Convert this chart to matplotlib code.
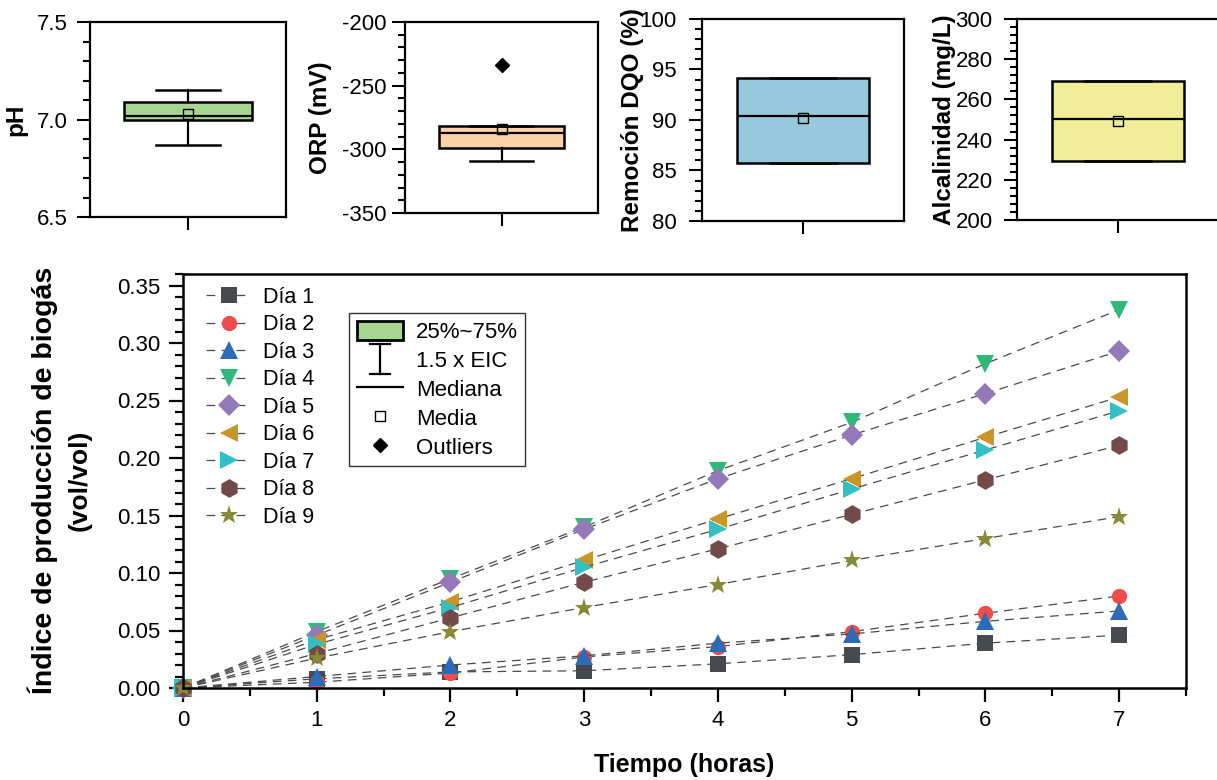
import matplotlib
matplotlib.use("Agg")
import matplotlib.pyplot as plt
from matplotlib.lines import Line2D
from matplotlib.patches import Patch
from matplotlib.legend_handler import HandlerBase
from matplotlib.ticker import MultipleLocator

plt.rcParams['font.family'] = ['Liberation Sans', 'DejaVu Sans']
plt.rcParams['font.size'] = 15

# ---------------- data ----------------
horas = [0, 1, 2, 3, 4, 5, 6, 7]
dia_labels = ["Día 1", "Día 2", "Día 3", "Día 4", "Día 5", "Día 6", "Día 7", "Día 8", "Día 9"]
dia1 = [0.0, 0.008, 0.014, 0.015, 0.021, 0.029, 0.039, 0.046]
dia2 = [0.0, 0.005, 0.013, 0.027, 0.036, 0.049, 0.065, 0.080]
dia3 = [0.0, 0.010, 0.020, 0.028, 0.039, 0.047, 0.058, 0.067]
dia4 = [0.0, 0.049, 0.095, 0.140, 0.189, 0.231, 0.282, 0.329]
dia5 = [0.0, 0.046, 0.092, 0.138, 0.182, 0.220, 0.256, 0.293]
dia6 = [0.0, 0.042, 0.075, 0.111, 0.147, 0.182, 0.218, 0.253]
dia7 = [0.0, 0.038, 0.070, 0.105, 0.138, 0.173, 0.207, 0.241]
dia8 = [0.0, 0.030, 0.061, 0.092, 0.121, 0.151, 0.181, 0.211]
dia9 = [0.0, 0.026, 0.049, 0.070, 0.090, 0.111, 0.130, 0.149]
series = [dia1, dia2, dia3, dia4, dia5, dia6, dia7, dia8, dia9]

# box stats: whislo, q1, med, q3, whishi ; plus mean and fliers
ph_stats = [6.87, 7.00, 7.02, 7.09, 7.15]
ph_mean = 7.03
orp_stats = [-309, -299, -287, -282, -282]
orp_mean = -284
orp_fliers = [-234]
dqo_stats = [85.7, 85.7, 90.4, 94.2, 94.2]
dqo_mean = 90.2
alc_stats = [229.5, 229.5, 250.0, 269.0, 269.0]
alc_mean = 249.5

legend_box_labels = ["25%~75%", "1.5 x EIC", "Mediana", "Media", "Outliers"]

# ---------------- styles ----------------
colors = ['#46494d', '#ef4c4c', '#2b6bb8', '#2fb877', '#9479b8',
          '#c8952a', '#33bfc4', '#734a4a', '#878a36']
markers = ['s', 'o', '^', 'v', 'D', '<', '>', 'h', '*']
msizes = [11, 11, 12.5, 12.5, 11, 12.5, 12.5, 13.5, 14]

W, H = 1217, 780
fig = plt.figure(figsize=(W / 100, H / 100), dpi=100)

def fr(l, t, r, b):
    return [l / W, 1 - b / H, (r - l) / W, (b - t) / H]

# ---------------- small boxplots ----------------
small = [
    (fr(90, 22, 286, 217), ph_stats, ph_mean, [], '#a8d590', (6.5, 7.5), 0.5, 0.1, 'pH', 16, '{:.1f}', 6.5),
    (fr(405, 22, 598, 213), orp_stats, orp_mean, orp_fliers, '#fdd1a8', (-350, -200), 50, 10, 'ORP (mV)', 321, '{:.0f}', 3.5),
    (fr(702, 19, 904, 221), dqo_stats, dqo_mean, [], '#97c9dc', (80, 100), 5, 1, 'Remoción DQO (%)', 633, '{:.0f}', 9),
    (fr(1017, 19, 1219, 220), alc_stats, alc_mean, [], '#f1ee97', (200, 300), 20, 4, 'Alcalinidad (mg/L)', 945, '{:.0f}', 8),
]
for rect, st, mean, fliers, col, ylim, maj, mnr, lab, labx, fmt, pad in small:
    ax = fig.add_axes(rect)
    stats = [dict(whislo=st[0], q1=st[1], med=st[2], q3=st[3], whishi=st[4],
                  mean=mean, fliers=fliers)]
    ax.bxp(stats, positions=[0.5], widths=0.65, showmeans=True, patch_artist=True,
           capwidths=[0.33],
           boxprops=dict(facecolor=col, edgecolor='black', linewidth=1.8),
           medianprops=dict(color='black', linewidth=1.6),
           whiskerprops=dict(color='black', linewidth=1.6),
           capprops=dict(color='black', linewidth=1.8),
           meanprops=dict(marker='s', markerfacecolor='none', markeredgecolor='black',
                          markersize=7, markeredgewidth=1.0),
           flierprops=dict(marker='D', markerfacecolor='black', markeredgecolor='black',
                           markersize=7))
    ax.set_xlim(0, 1)
    ax.set_ylim(*ylim)
    ax.yaxis.set_major_locator(MultipleLocator(maj))
    ax.yaxis.set_minor_locator(MultipleLocator(mnr))
    ticks = [t for t in ax.get_yticks() if ylim[0] - 1e-9 <= t <= ylim[1] + 1e-9]
    ax.set_yticks(ticks)
    ax.set_yticklabels([fmt.format(t) for t in ticks])
    ax.set_xticks([0.5])
    ax.set_xticklabels([])
    ax.tick_params(axis='y', which='major', direction='out', length=9.5, width=1.5, labelsize=16, pad=pad)
    ax.tick_params(axis='y', which='minor', direction='out', length=5, width=1.5)
    ax.tick_params(axis='x', which='major', direction='out', length=9.5, width=1.5)
    for s in ax.spines.values():
        s.set_linewidth(1.6)
    fig.text(labx / W, rect[1] + rect[3] / 2, lab, rotation=90, ha='center', va='center',
             fontsize=17.5, fontweight='bold')

# ---------------- main plot ----------------
ax = fig.add_axes(fr(183, 274, 1186, 688))
handles = []
for i, y in enumerate(series):
    ln, = ax.plot(horas, y, linestyle=(0, (7, 5)), color='#4a4a4a', linewidth=0.9,
                  marker=markers[i], markersize=msizes[i], markerfacecolor=colors[i],
                  markeredgecolor=colors[i], markeredgewidth=0, label=dia_labels[i],
                  clip_on=False)
    handles.append(ln)
ax.set_xlim(0, 7.5)
ax.set_ylim(0, 0.36)
ax.xaxis.set_major_locator(MultipleLocator(1))
ax.xaxis.set_minor_locator(MultipleLocator(0.5))
ax.yaxis.set_minor_locator(MultipleLocator(0.01))
ax.set_yticks([0.0, 0.05, 0.10, 0.15, 0.20, 0.25, 0.30, 0.35])
ax.set_yticklabels(['0.00', '0.05', '0.10', '0.15', '0.20', '0.25', '0.30', '0.35'])
ax.tick_params(which='major', direction='out', length=10, width=1.6, labelsize=16, pad=6)
ax.tick_params(which='minor', direction='out', length=6, width=1.6)
for s in ax.spines.values():
    s.set_linewidth(1.8)

fig.text(684.5 / W, 1 - 765 / H, 'Tiempo (horas)', ha='center', va='center',
         fontsize=18, fontweight='bold')
fig.text(43 / W, 1 - 480 / H, 'Índice de producción de biogás', rotation=90,
         ha='center', va='center', fontsize=20.5, fontweight='bold')
fig.text(80 / W, 1 - 480 / H, '(vol/vol)', rotation=90,
         ha='center', va='center', fontsize=19, fontweight='bold')

leg1 = ax.legend(handles=handles, loc='upper left', frameon=False,
                 bbox_to_anchor=(206 / W, 1 - 287 / H), bbox_transform=fig.transFigure,
                 borderaxespad=0, borderpad=0, handlelength=2.1, handletextpad=0.55,
                 labelspacing=0.3, fontsize=15.5)
ax.add_artist(leg1)


class HandlerWhisker(HandlerBase):
    def create_artists(self, legend, orig_handle, xdescent, ydescent, width, height,
                       fontsize, trans):
        cx = width / 2 - xdescent
        y0 = -ydescent - 4
        y1 = height - ydescent + 4
        cw = 7
        arts = [Line2D([cx, cx], [y0, y1], color='black', lw=1.6, transform=trans),
                Line2D([cx - cw, cx + cw], [y0, y0], color='black', lw=1.6, transform=trans),
                Line2D([cx - cw, cx + cw], [y1, y1], color='black', lw=1.6, transform=trans)]
        return arts


box_h = Patch(facecolor='#a8d590', edgecolor='black', linewidth=2)
whisk_h = Line2D([], [])
med_h = Line2D([], [], color='black', lw=1.6)
mean_h = Line2D([], [], linestyle='none', marker='s', markerfacecolor='none',
                markeredgecolor='black', markersize=7, markeredgewidth=1)
out_h = Line2D([], [], linestyle='none', marker='D', color='black', markersize=7)
leg2 = ax.legend([box_h, whisk_h, med_h, mean_h, out_h], legend_box_labels,
                 handler_map={whisk_h: HandlerWhisker()},
                 loc='upper left', bbox_to_anchor=(349 / W, 1 - 313 / H),
                 bbox_transform=fig.transFigure, borderaxespad=0, fancybox=False,
                 edgecolor='#333333', framealpha=1, fontsize=16, handlelength=2.1,
                 handleheight=0.95, labelspacing=0.3, handletextpad=0.55, borderpad=0.35)
leg2.get_frame().set_linewidth(1.0)

fig.savefig('out.png', dpi=100)
